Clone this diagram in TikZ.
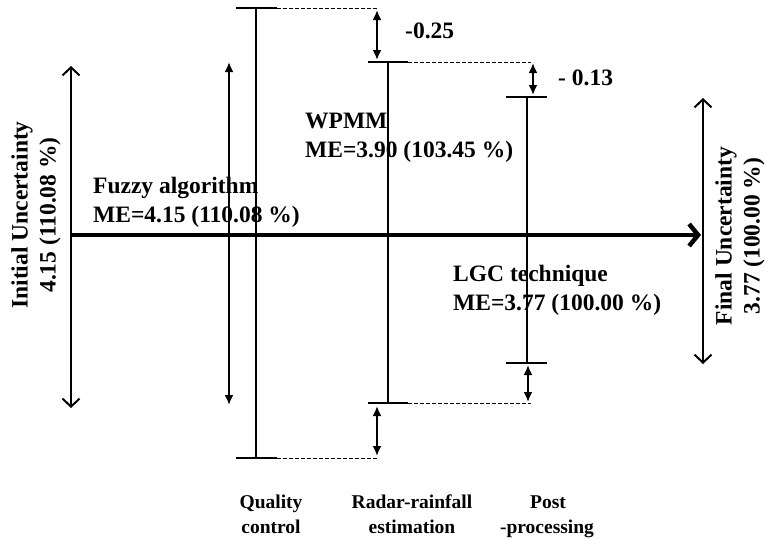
\documentclass[tikz,border=0pt]{standalone}
\usepackage{fontspec}
\setmainfont{Liberation Serif}
\usetikzlibrary{arrows.meta}
\begin{document}
\begin{tikzpicture}[x=1pt,y=-1pt,
  bar/.style={line width=2.2pt},
  dashline/.style={line width=1pt, dash pattern=on 3.5pt off 2.5pt},
  barbdbl/.style={line width=2pt,{Straight Barb[length=8pt,width=17pt]}-{Straight Barb[length=8pt,width=17pt]}},
  fillarr/.style={line width=2pt,{Latex[length=10pt,width=9pt]}-{Latex[length=10pt,width=9pt]}},
  mainarr/.style={line width=4.5pt,-{Straight Barb[length=9pt,width=22pt]}},
  lbl/.style={font=\fontsize{23.5}{28}\selectfont\bfseries, inner sep=0pt},
  small/.style={font=\fontsize{19.5}{24}\selectfont\bfseries, inner sep=0pt, anchor=base}
]
\useasboundingbox (0,0) rectangle (766,539);

% main arrow
\coordinate (m0) at (70,235);
\coordinate (m1) at (701,235);
\draw[mainarr] (m0) -- (m1);

% initial and final uncertainty arrows
\coordinate (i0) at (71,66);
\coordinate (i1) at (71,408);
\draw[barbdbl] (i0) -- (i1);
\coordinate (f0) at (703,98);
\coordinate (f1) at (703,364);
\draw[barbdbl] (f0) -- (f1);

% inner arrow
\coordinate (a0) at (229,62);
\coordinate (a1) at (229,405);
\draw[fillarr] (a0) -- (a1);

% quality control bar
\coordinate (q0) at (256,8);
\coordinate (q1) at (256,458);
\coordinate (qtl) at (236,8);   \coordinate (qtr) at (277,8);
\coordinate (qbl) at (236,458); \coordinate (qbr) at (277,458);
\draw[bar] (q0) -- (q1);
\draw[bar] (qtl) -- (qtr);
\draw[bar] (qbl) -- (qbr);
\coordinate (qde) at (377,8);
\coordinate (qdbe) at (377,458);
\draw[dashline] (qtr) -- (qde);
\draw[dashline] (qbr) -- (qdbe);

% radar-rainfall bar
\coordinate (r0) at (388,62);
\coordinate (r1) at (388,403);
\coordinate (rtl) at (368,62);  \coordinate (rtr) at (408,62);
\coordinate (rbl) at (368,403); \coordinate (rbr) at (408,403);
\draw[bar] (r0) -- (r1);
\draw[bar] (rtl) -- (rtr);
\draw[bar] (rbl) -- (rbr);
\coordinate (rde) at (531,62);
\coordinate (rdbe) at (531,403);
\draw[dashline] (rtr) -- (rde);
\draw[dashline] (rbr) -- (rdbe);

% differences QC -> RR
\coordinate (d1a) at (377,10);  \coordinate (d1b) at (377,60);
\draw[fillarr] (d1a) -- (d1b);
\coordinate (d2a) at (377,406); \coordinate (d2b) at (377,456);
\draw[fillarr] (d2a) -- (d2b);

% post-processing bar
\coordinate (p0) at (527,97);
\coordinate (p1) at (527,363);
\coordinate (ptl) at (506,97);  \coordinate (ptr) at (547,97);
\coordinate (pbl) at (506,363); \coordinate (pbr) at (547,363);
\draw[bar] (p0) -- (p1);
\draw[bar] (ptl) -- (ptr);
\draw[bar] (pbl) -- (pbr);

% differences RR -> PP
\coordinate (d3a) at (533,63);  \coordinate (d3b) at (533,95);
\draw[fillarr] (d3a) -- (d3b);
\coordinate (d4a) at (528,365); \coordinate (d4b) at (528,402);
\draw[fillarr] (d4a) -- (d4b);

% labels
\node[lbl, anchor=base west] (dA) at (405,38) {-0.25};
\node[lbl, anchor=base west] (dB) at (558,85) {- 0.13};
\node[lbl, anchor=base west] (w1) at (305,128) {WPMM};
\node[lbl, anchor=base west] (w2) at (305,157) {ME=3.90 (103.45 \%)};
\node[lbl, anchor=base west] (z1) at (93,193) {Fuzzy algorithm};
\node[lbl, anchor=base west] (z2) at (93,222) {ME=4.15 (110.08 \%)};
\node[lbl, anchor=base west] (g1) at (453,281) {LGC technique};
\node[lbl, anchor=base west] (g2) at (453,310) {ME=3.77 (100.00 \%)};

\node[lbl, rotate=90, align=center] (ini) at (36,215) {Initial Uncertainty\\4.15 (110.08 \%)};
\node[lbl, rotate=90, align=center] (fin) at (740,236) {Final Uncertainty\\3.77 (100.00 \%)};

\node[small] (b1) at (271,508) {Quality};
\node[small] (b2) at (271,533) {control};
\node[small] (b3) at (412,508) {Radar-rainfall};
\node[small] (b4) at (412,533) {estimation};
\node[small] (b5) at (548,508) {Post};
\node[small] (b6) at (547,533) {-processing};
\end{tikzpicture}
\end{document}
